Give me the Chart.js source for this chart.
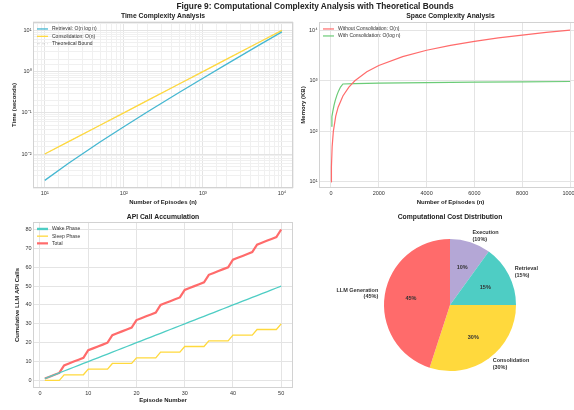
<!DOCTYPE html>
<html>
<head>
<meta charset="utf-8">
<title>Figure 9: Computational Complexity Analysis</title>
<script src="https://cdn.jsdelivr.net/npm/chart.js@4.4.0/dist/chart.umd.min.js"></script>
<style>
  html, body { margin: 0; padding: 0; background: #fff; overflow: hidden; }
  #wrap { position: relative; width: 574px; height: 410px; overflow: hidden; }
  canvas { position: absolute; }
  #suptitle {
    position: absolute; top: 1px; left: 0; width: 630px; text-align: center;
    font: bold 8.3px 'Liberation Sans', Arial, sans-serif; color: #222; z-index: 2;
  }
</style>
</head>
<body>
<div id="wrap">
  <div id="suptitle">Figure 9: Computational Complexity Analysis with Theoretical Bounds</div>
  <canvas id="timeChart" width="296" height="208" style="left:0;top:0"></canvas>
  <canvas id="spaceChart" width="300" height="208" style="left:296px;top:0"></canvas>
  <canvas id="apiChart" width="296" height="205" style="left:0;top:205px"></canvas>
  <canvas id="costChart" width="278" height="205" style="left:296px;top:205px"></canvas>
</div>
<script>
// ---- data ----

// time complexity (log-log)
const timeEpisodes = [10, 20, 50, 100, 200, 500, 1000, 2000, 5000, 10000];
const retrievalTime = [0.0023, 0.006, 0.0196, 0.046, 0.106, 0.311, 0.69, 1.52, 4.26, 9.2];
const consolidationTime = [0.01, 0.02, 0.05, 0.1, 0.2, 0.5, 1, 2, 5, 10];
const boundTime = [0.01, 0.02, 0.05, 0.1, 0.2, 0.5, 1, 2, 5, 10];
const timeXTicks = [10, 100, 1000, 10000];
const timeXLabels = ['10\u00b9', '10\u00b2', '10\u00b3', '10\u2074'];
const timeYTicks = [0.01, 0.1, 1, 10];
const timeYLabels = ['10\u207b\u00b2', '10\u207b\u00b9', '10\u2070', '10\u00b9'];

// space complexity
const spaceEpisodesWithout = [10, 20, 50, 100, 200, 300, 500, 750, 1000, 1500, 2000, 3000, 4000, 5000, 6000, 7000, 8000, 9000, 10000];
const memoryWithout = [10, 20, 50, 100, 200, 300, 500, 750, 1000, 1500, 2000, 3000, 4000, 5000, 6000, 7000, 8000, 9000, 10000];
const spaceEpisodesWith = [10, 40, 80, 130, 180, 250, 320, 400, 500, 1000, 2000, 4000, 6000, 8000, 10000];
const memoryWith = [127, 195, 250, 330, 410, 520, 630, 750, 862, 880, 900, 920, 935, 950, 965];
const spaceXTicks = [0, 2000, 4000, 6000, 8000, 10000];
const spaceYTicks = [10, 100, 1000, 10000];
const spaceYLabels = ['10\u00b9', '10\u00b2', '10\u00b3', '10\u2074'];

// API call accumulation
const apiEpisodes = [1, 2, 3, 4, 5, 6, 7, 8, 9, 10, 11, 12, 13, 14, 15, 16, 17, 18, 19, 20,
  21, 22, 23, 24, 25, 26, 27, 28, 29, 30, 31, 32, 33, 34, 35, 36, 37, 38, 39, 40,
  41, 42, 43, 44, 45, 46, 47, 48, 49, 50];
const wakeCalls = [1, 2, 3, 4, 5, 6, 7, 8, 9, 10, 11, 12, 13, 14, 15, 16, 17, 18, 19, 20,
  21, 22, 23, 24, 25, 26, 27, 28, 29, 30, 31, 32, 33, 34, 35, 36, 37, 38, 39, 40,
  41, 42, 43, 44, 45, 46, 47, 48, 49, 50];
const sleepCalls = [0, 0, 0, 0, 3, 3, 3, 3, 3, 6, 6, 6, 6, 6, 9, 9, 9, 9, 9, 12,
  12, 12, 12, 12, 15, 15, 15, 15, 15, 18, 18, 18, 18, 18, 21, 21, 21, 21, 21, 24,
  24, 24, 24, 24, 27, 27, 27, 27, 27, 30];
const totalCalls = [1, 2, 3, 4, 8, 9, 10, 11, 12, 16, 17, 18, 19, 20, 24, 25, 26, 27, 28, 32,
  33, 34, 35, 36, 40, 41, 42, 43, 44, 48, 49, 50, 51, 52, 56, 57, 58, 59, 60, 64,
  65, 66, 67, 68, 72, 73, 74, 75, 76, 80];
const apiXTicks = [0, 10, 20, 30, 40, 50];
const apiYTicks = [0, 10, 20, 30, 40, 50, 60, 70, 80];

// cost distribution (clockwise from 12 o'clock)
const costLabels = ['Execution', 'Retrieval', 'Consolidation', 'LLM Generation'];
const costShares = [10, 15, 30, 45];
const costColors = ['#B4A7D6', '#4ECDC4', '#FFD93D', '#FF6B6B'];

// ---- shared setup ----
Chart.defaults.font.family = "'Liberation Sans', Arial, sans-serif";
Chart.defaults.color = '#333';
Chart.defaults.animation = false;
Chart.defaults.plugins.tooltip.enabled = false;
Chart.defaults.plugins.legend.display = false;

const TICK_FONT = { size: 5.5 };
const AXIS_TITLE_FONT = { size: 6, weight: 'bold' };
const SUB_TITLE_FONT = { size: 6.8, weight: 'bold' };
const GRID_MAJOR = '#e4e4e4';
const GRID_MINOR = '#f0f0f0';

function fixSize(w, h) {
  return function(scale) {
    if (w != null) scale.width = w;
    if (h != null) scale.height = h;
  };
}

// use our own tick list instead of the generated one
function useTicks(values) {
  return function(scale) {
    scale.ticks = values.map(v => ({ value: v }));
  };
}

function pick(value, ticks, labels, fallback) {
  for (let i = 0; i < ticks.length; i++) {
    if (Math.abs(value - ticks[i]) / ticks[i] < 1e-6) return labels[i];
  }
  return fallback;
}

function isDecade(v) {
  const e = Math.log10(v);
  return Math.abs(e - Math.round(e)) < 1e-6;
}

function toPoints(xs, ys) {
  return xs.map((x, i) => ({ x: x, y: ys[i] }));
}

// light grey box round the plot area; subplot title centred over the plot area
const framePlugin = {
  id: 'frame',
  afterLayout(chart) {
    if (chart.titleBlock) {
      chart.titleBlock.left = chart.chartArea.left;
      chart.titleBlock.right = chart.chartArea.right;
    }
  },
  beforeDatasetsDraw(chart) {
    const { ctx, chartArea: a } = chart;
    ctx.save();
    ctx.strokeStyle = '#d2d2d2';
    ctx.lineWidth = 1;
    ctx.strokeRect(Math.round(a.left) + 0.5, Math.round(a.top) + 0.5,
      Math.round(a.right - a.left) - 1, Math.round(a.bottom - a.top) - 1);
    ctx.restore();
  }
};

// legend drawn inside the plot area, top left
const insideLegend = {
  id: 'insideLegend',
  afterDatasetsDraw(chart, args, opts) {
    const { ctx, chartArea } = chart;
    ctx.save();
    ctx.font = "5px 'Liberation Sans', Arial, sans-serif";
    ctx.textBaseline = 'middle';
    ctx.textAlign = 'left';
    chart.data.datasets.forEach((ds, i) => {
      const x = chartArea.left + opts.left;
      const y = chartArea.top + opts.top + i * opts.rowGap;
      ctx.strokeStyle = ds.borderColor;
      ctx.lineWidth = ds.legendWidth || ds.borderWidth;
      ctx.setLineDash(ds.borderDash || []);
      ctx.beginPath();
      ctx.moveTo(x, y);
      ctx.lineTo(x + 11, y);
      ctx.stroke();
      ctx.setLineDash([]);
      ctx.fillStyle = '#333';
      ctx.fillText(ds.label, x + 15, y);
    });
    ctx.restore();
  }
};

// percentages inside the slices, names outside
const pieLabels = {
  id: 'pieLabels',
  afterDatasetsDraw(chart) {
    const { ctx } = chart;
    const meta = chart.getDatasetMeta(0);
    ctx.save();
    ctx.font = "bold 5.5px 'Liberation Sans', Arial, sans-serif";
    ctx.fillStyle = '#333';
    ctx.textBaseline = 'middle';
    meta.data.forEach((arc, i) => {
      const p = arc.getProps(['x', 'y', 'startAngle', 'endAngle', 'outerRadius'], true);
      const mid = (p.startAngle + p.endAngle) / 2;
      const cx = Math.cos(mid), cy = Math.sin(mid);
      ctx.textAlign = 'center';
      ctx.fillText(costShares[i] + '%', p.x + cx * p.outerRadius * 0.6, p.y + cy * p.outerRadius * 0.6);
      const lx = p.x + cx * p.outerRadius * 1.1;
      const ly = p.y + cy * p.outerRadius * 1.1;
      ctx.textAlign = cx >= 0 ? 'left' : 'right';
      ctx.fillText(costLabels[i], lx, ly - 3.3);
      ctx.fillText('(' + costShares[i] + '%)', lx, ly + 3.3);
    });
    ctx.restore();
  }
};

function subTitle(text, top, bottom) {
  return { display: true, text: text, font: SUB_TITLE_FONT, color: '#222', padding: { top: top, bottom: bottom } };
}

// ---- time complexity ----
new Chart(document.getElementById('timeChart'), {
  type: 'line',
  data: {
    datasets: [
      { label: 'Retrieval: O(n log n)', data: toPoints(timeEpisodes, retrievalTime),
        borderColor: '#45B7D1', borderWidth: 1.3, pointRadius: 0, order: 1 },
      { label: 'Consolidation: O(n)', data: toPoints(timeEpisodes, consolidationTime),
        borderColor: '#FFD93D', borderWidth: 1.3, pointRadius: 0, order: 1 },
      { label: 'Theoretical Bound', data: toPoints(timeEpisodes, boundTime),
        borderColor: 'rgba(150,150,150,0.3)', borderWidth: 1, borderDash: [3, 2], pointRadius: 0, order: 2 }
    ]
  },
  options: {
    responsive: false,
    layout: { padding: { left: 0, right: 3, top: 0, bottom: 0 } },
    plugins: {
      title: subTitle('Time Complexity Analysis', 11.9, 1.9),
      insideLegend: { left: 4, top: 7, rowGap: 7.4 }
    },
    scales: {
      x: {
        type: 'logarithmic', min: 7.1, max: 13800,
        afterFit: fixSize(null, 20),
        border: { display: false },
        grid: { drawTicks: false, color: c => (c.tick && isDecade(c.tick.value)) ? GRID_MAJOR : GRID_MINOR },
        ticks: { autoSkip: false, maxRotation: 0, padding: 2, font: TICK_FONT,
          callback: v => pick(v, timeXTicks, timeXLabels, '') },
        title: { display: true, text: 'Number of Episodes (n)', font: AXIS_TITLE_FONT, color: '#222', padding: { top: 0, bottom: 2.4 } }
      },
      y: {
        type: 'logarithmic', min: 0.0015, max: 16,
        afterFit: fixSize(33, null),
        border: { display: false },
        grid: { drawTicks: false, color: c => (c.tick && isDecade(c.tick.value)) ? GRID_MAJOR : GRID_MINOR },
        ticks: { autoSkip: false, padding: 1.5, font: TICK_FONT,
          callback: v => pick(v, timeYTicks, timeYLabels, '') },
        title: { display: true, text: 'Time (seconds)', font: AXIS_TITLE_FONT, color: '#222', padding: { top: 10.4, bottom: 0 } }
      }
    }
  },
  plugins: [framePlugin, insideLegend]
});

// ---- space complexity ----
new Chart(document.getElementById('spaceChart'), {
  type: 'line',
  data: {
    datasets: [
      { label: 'Without Consolidation: O(n)', data: toPoints(spaceEpisodesWithout, memoryWithout),
        borderColor: '#FF6B6B', borderWidth: 1.2, pointRadius: 0 },
      { label: 'With Consolidation: O(log n)', data: toPoints(spaceEpisodesWith, memoryWith),
        borderColor: '#6BCB77', borderWidth: 1.2, pointRadius: 0 }
    ]
  },
  options: {
    responsive: false,
    layout: { padding: { left: 0, right: 14, top: 0, bottom: 0 } },
    plugins: {
      title: subTitle('Space Complexity Analysis', 11.9, 1.9),
      insideLegend: { left: 4, top: 7, rowGap: 7 }
    },
    scales: {
      x: {
        type: 'linear', min: -500, max: 10500,
        afterFit: fixSize(null, 20),
        afterBuildTicks: useTicks(spaceXTicks),
        border: { display: false },
        grid: { drawTicks: false, color: GRID_MAJOR },
        ticks: { autoSkip: false, maxRotation: 0, padding: 2, font: TICK_FONT,
          callback: v => String(v) },
        title: { display: true, text: 'Number of Episodes (n)', font: AXIS_TITLE_FONT, color: '#222', padding: { top: 0, bottom: 2.4 } }
      },
      y: {
        type: 'logarithmic', min: 7.6, max: 14500,
        afterFit: fixSize(23, null),
        border: { display: false },
        grid: { drawTicks: false, color: c => (c.tick && isDecade(c.tick.value)) ? GRID_MAJOR : 'rgba(0,0,0,0)' },
        ticks: { autoSkip: false, padding: 1.5, font: TICK_FONT,
          callback: v => pick(v, spaceYTicks, spaceYLabels, '') },
        title: { display: true, text: 'Memory (KB)', font: AXIS_TITLE_FONT, color: '#222', padding: { top: 3.4, bottom: 0 } }
      }
    }
  },
  plugins: [framePlugin, insideLegend]
});

// ---- API call accumulation ----
new Chart(document.getElementById('apiChart'), {
  type: 'line',
  data: {
    datasets: [
      { label: 'Wake Phase', data: toPoints(apiEpisodes, wakeCalls),
        borderColor: '#4ECDC4', borderWidth: 1.3, legendWidth: 2.4, pointRadius: 0 },
      { label: 'Sleep Phase', data: toPoints(apiEpisodes, sleepCalls),
        borderColor: '#FFD93D', borderWidth: 1.3, pointRadius: 0 },
      { label: 'Total', data: toPoints(apiEpisodes, totalCalls),
        borderColor: '#FF6B6B', borderWidth: 2.2, pointRadius: 0 }
    ]
  },
  options: {
    responsive: false,
    layout: { padding: { left: 0, right: 3, top: 0, bottom: 0 } },
    plugins: {
      title: subTitle('API Call Accumulation', 7.9, 0.9),
      insideLegend: { left: 4, top: 7, rowGap: 7.2 }
    },
    scales: {
      x: {
        type: 'linear', min: -1.45, max: 52.45,
        afterFit: fixSize(null, 22),
        afterBuildTicks: useTicks(apiXTicks),
        border: { display: false },
        grid: { drawTicks: false, color: GRID_MAJOR },
        ticks: { autoSkip: false, maxRotation: 0, padding: 2, font: TICK_FONT, callback: v => String(v) },
        title: { display: true, text: 'Episode Number', font: AXIS_TITLE_FONT, color: '#222', padding: { top: 0, bottom: 6.4 } }
      },
      y: {
        type: 'linear', min: -4, max: 84,
        afterFit: fixSize(33, null),
        afterBuildTicks: useTicks(apiYTicks),
        border: { display: false },
        grid: { drawTicks: false, color: GRID_MAJOR },
        ticks: { autoSkip: false, padding: 1.5, font: TICK_FONT, callback: v => String(v) },
        title: { display: true, text: 'Cumulative LLM API Calls', font: AXIS_TITLE_FONT, color: '#222', padding: { top: 13.4, bottom: 0 } }
      }
    }
  },
  plugins: [framePlugin, insideLegend]
});

// ---- cost distribution ----
new Chart(document.getElementById('costChart'), {
  type: 'pie',
  data: {
    labels: costLabels,
    datasets: [{
      data: costShares,
      backgroundColor: costColors,
      borderWidth: 0,
      hoverOffset: 0,
      offset: 0
    }]
  },
  options: {
    responsive: false,
    layout: { padding: { left: 88, right: 58, top: 0, bottom: 39 } },
    plugins: {
      title: subTitle('Computational Cost Distribution', 7.9, 17.9)
    }
  },
  plugins: [pieLabels]
});
</script>
</body>
</html>
